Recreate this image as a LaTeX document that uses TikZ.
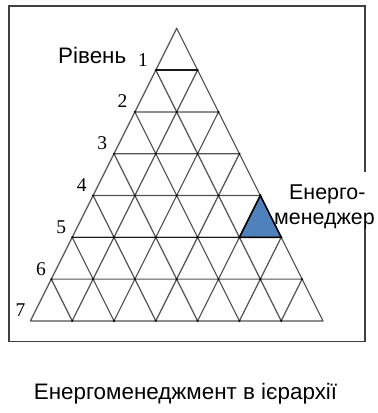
\documentclass[tikz,border=0pt]{standalone}
\usepackage{fontspec}
\setmainfont{Liberation Serif}
\newfontfamily\arialf{Liberation Sans}
\begin{document}
\begin{tikzpicture}[x=1pt,y=-1pt,
  gridline/.style={draw=black!68, line width=1.2pt, line join=round},
  boldline/.style={draw=black!90, line width=1.5pt},
  framebox/.style={draw=black!75, line width=1.5pt},
  lbl/.style={inner sep=0pt, font=\arialf\fontsize{22.4}{26}\selectfont},
  sidelbl/.style={inner sep=0pt, font=\arialf\fontsize{21.4}{25}\selectfont},
  num/.style={inner sep=0pt, anchor=base, font=\fontsize{19.5}{22}\selectfont},
  vdot/.style={fill=black, draw=none}]
\useasboundingbox (0,0) rectangle (378,413);
\definecolor{tblue}{HTML}{4F81BD}
\def\ax{176.7}\def\ay{28.3}\def\hh{41.8}\def\hw{20.9}
\foreach \k in {0,...,7}{
  \foreach \j in {0,...,\k}{
    \coordinate (v-\k-\j) at ({\ax-\hw*\k+2*\hw*\j},{\ay+\hh*\k});
  }
}
% blue triangle fill
\fill[tblue] (v-4-4) -- (v-5-4) -- (v-5-5) -- cycle;
% grid
\foreach \k in {0,...,6}{
  \foreach \j in {0,...,\k}{
    \pgfmathtruncatemacro\kk{\k+1}
    \pgfmathtruncatemacro\jj{\j+1}
    \draw[gridline] (v-\k-\j) -- (v-\kk-\j) -- (v-\kk-\jj) -- cycle;
  }
}
\draw[boldline] (v-1-0) -- (v-1-1);
\draw[boldline] (v-5-0) -- (v-5-5);
\draw[draw=black, line width=1.5pt, line join=miter] (v-4-4) -- (v-5-4) -- (v-5-5) -- cycle;
% vertex dots
\foreach \k in {1,...,6}{
  \foreach \j in {0,...,\k}{
    \fill[vdot] (v-\k-\j) circle (1.1);
  }
}
\foreach \j in {1,...,6}{\fill[vdot] (v-7-\j) circle (1.1);}
% frame
\draw[framebox] (365,172) -- (365,6) -- (9,6) -- (9,341.7) -- (365,341.7) -- (365,228);
% level numbers
\foreach \k in {1,...,7}{
  \node[num] (n\k) at ({143-20.42*(\k-1)},{66+41.8*(\k-1)}) {\k};
}
\node[lbl, anchor=base west] (riven) at (58,63) {Рівень};
\node[sidelbl, anchor=base west] (en1) at (289,199.3) {Енерго-};
\node[sidelbl, anchor=base west] (en2) at (274,224) {менеджер};
\node[lbl, anchor=base] (cap) at (185.5,399) {Енергоменеджмент в ієрархії};
\end{tikzpicture}
\end{document}
